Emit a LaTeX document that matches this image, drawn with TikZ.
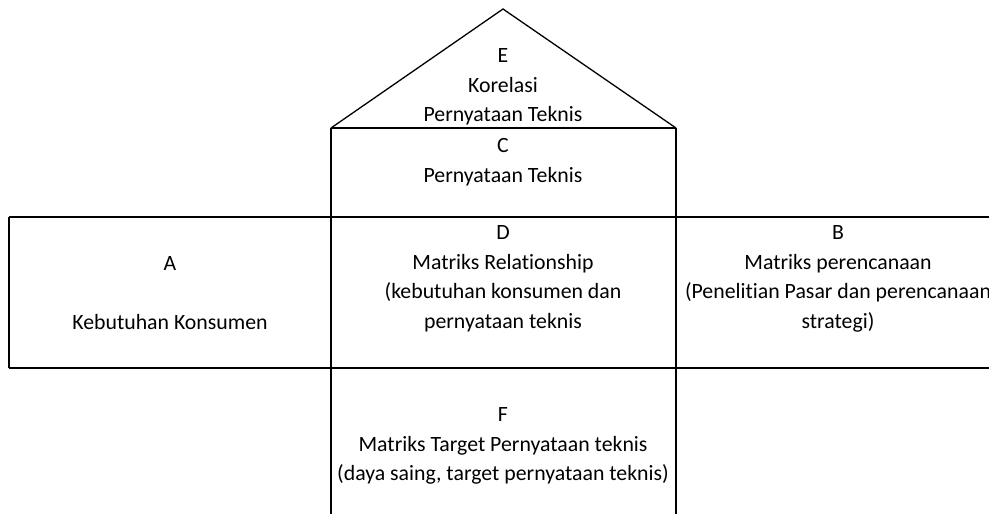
\documentclass[tikz,border=0pt]{standalone}
\usepackage{fontspec}
\setmainfont[RawFeature={-liga}]{Carlito}
\begin{document}
\begin{tikzpicture}[x=1pt,y=-1pt,
  boxline/.style={line width=2pt,black},
  roofline/.style={line width=1.3pt,black},
  label/.style={align=center,inner sep=0pt,font=\fontsize{21.8}{29.5}\selectfont}]
\useasboundingbox (0,0) rectangle (989,514);
% coordinates
\coordinate (apex) at (503,9);
\coordinate (rl) at (331,128);
\coordinate (rr) at (676,128);
\coordinate (cl) at (331,217);
\coordinate (cr) at (676,217);
\coordinate (al) at (9,217);
\coordinate (abl) at (9,368);
\coordinate (er) at (989,217);
\coordinate (ebr) at (989,368);
\coordinate (fl) at (331,514);
\coordinate (fr) at (676,514);
% roof
\draw[roofline] (rl) -- (apex) -- (rr);
% boxes
\draw[boxline] (rl) -- (rr);
\draw[boxline] (al) -- (er);
\draw[boxline] (abl) -- (ebr);
\draw[boxline] (al) -- (abl);
\draw[boxline] (rl) -- (fl);
\draw[boxline] (rr) -- (fr);
% texts
\node[label] (E) at (503,87) {E\\Korelasi\\Pernyataan Teknis};
\node[label] (C) at (503,162) {C\\Pernyataan Teknis};
\node[label] (A) at (170,293) {A\\[29.5pt]Kebutuhan Konsumen};
\node[label] (D) at (503,279) {D\\Matriks Relationship\\(kebutuhan konsumen dan\\pernyataan teknis};
\node[label] (B) at (838,279) {B\\Matriks perencanaan\\(Penelitian Pasar dan perencanaan\\strategi)};
\node[label] (F) at (503,446) {F\\Matriks Target Pernyataan teknis\\(daya saing, target pernyataan teknis)};
\end{tikzpicture}
\end{document}
